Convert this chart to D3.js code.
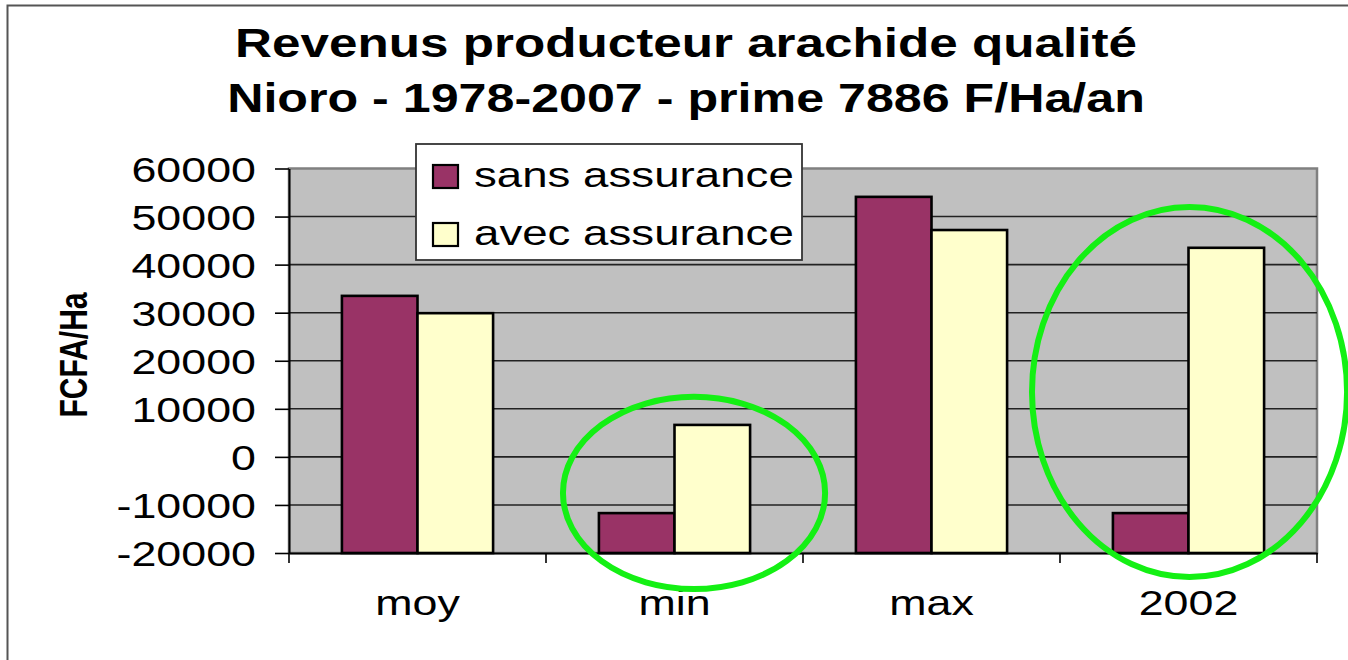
<!DOCTYPE html>
<html>
<head>
<meta charset="utf-8">
<script src="https://cdn.jsdelivr.net/npm/d3@7"></script>
<style>
  html, body { margin: 0; padding: 0; background: #ffffff; }
  svg { display: block; font-family: "Liberation Sans", Arial, sans-serif; }
</style>
</head>
<body>
<svg id="chart" width="1348" height="660"></svg>
<script>
// ---- data ----
const titleLines = ["Revenus producteur arachide qualité", "Nioro - 1978-2007 - prime 7886 F/Ha/an"];
const yAxisLabel = "FCFA/Ha";
const categories = ["moy", "min", "max", "2002"];
const seriesNames = ["sans assurance", "avec assurance"];
const sansAssurance = [33500, -11700, 54100, -11700];
const avecAssurance = [29900, 6650, 47200, 43500];
const yTicks = [-20000, -10000, 0, 10000, 20000, 30000, 40000, 50000, 60000];
const highlightCategories = ["min", "2002"];

// ---- styles / layout ----
const colors = { "sans assurance": "#993366", "avec assurance": "#FFFFCC" };
const stretch = 1.28;
const W = 1348, H = 660;
const plot = { left: 289, right: 1317, top: 168.5, bottom: 553 };

const svg = d3.select("#chart");

// outer chart border
svg.append("rect").attr("x", 7.5).attr("y", 5.5).attr("width", W + 20).attr("height", H + 20)
  .attr("fill", "#fff").attr("stroke", "#555").attr("stroke-width", 2);

// scales
const x0 = d3.scaleBand().domain(categories).range([plot.left, plot.right]);
const x1 = d3.scaleBand().domain(seriesNames).range([0, x0.bandwidth()]).paddingInner(0).paddingOuter(0.7);
const y = d3.scaleLinear().domain([yTicks[0], yTicks[yTicks.length - 1]]).range([plot.bottom, plot.top]);

// plot background
svg.append("rect").attr("x", plot.left).attr("y", plot.top)
  .attr("width", plot.right - plot.left).attr("height", plot.bottom - plot.top)
  .attr("fill", "#c0c0c0").attr("stroke", "#808080").attr("stroke-width", 2.5);

// gridlines
svg.append("g").selectAll("line").data(yTicks.slice(1, -1)).join("line")
  .attr("x1", plot.left).attr("x2", plot.right)
  .attr("y1", d => y(d)).attr("y2", d => y(d))
  .attr("stroke", "#222").attr("stroke-width", 1.6);

// bars
const rows = categories.map((c, i) => ({ cat: c, values: [
  { s: seriesNames[0], v: sansAssurance[i] },
  { s: seriesNames[1], v: avecAssurance[i] }
]}));
const base = y.domain()[0];
svg.append("g").selectAll("g").data(rows).join("g")
  .attr("transform", d => `translate(${x0(d.cat)},0)`)
  .selectAll("rect").data(d => d.values).join("rect")
  .attr("x", d => x1(d.s)).attr("width", x1.bandwidth())
  .attr("y", d => y(Math.max(d.v, base)))
  .attr("height", d => Math.abs(y(base) - y(d.v)))
  .attr("fill", d => colors[d.s]).attr("stroke", "#000").attr("stroke-width", 2.6)
  .attr("stroke-linejoin", "miter");

// y axis
const yAxis = svg.append("g").attr("transform", `translate(${plot.left},0)`)
  .call(d3.axisLeft(y).tickValues(yTicks).tickFormat(d3.format("d")).tickSize(14).tickSizeOuter(0));
yAxis.select(".domain").attr("stroke", "#000").attr("stroke-width", 2);
yAxis.selectAll(".tick line").attr("stroke", "#000").attr("stroke-width", 1.6);
yAxis.selectAll(".tick text")
  .attr("x", 0).attr("dy", "0.36em")
  .attr("transform", `translate(-33,0) scale(${stretch},1)`)
  .attr("font-size", 35).attr("fill", "#000")
  .attr("font-family", "'Liberation Sans', Arial, sans-serif")
  .text(d => d3.format("d")(d).replace("−", "-"));

// x axis (labels at band centres, ticks at band boundaries)
const xAxis = svg.append("g").attr("transform", `translate(0,${plot.bottom})`)
  .call(d3.axisBottom(x0).tickSize(0).tickSizeOuter(0));
xAxis.select(".domain").attr("stroke", "#000").attr("stroke-width", 2);
xAxis.selectAll(".tick text")
  .attr("y", 0).attr("dy", 0)
  .attr("transform", `translate(0,62) scale(${stretch},1)`)
  .attr("font-size", 35).attr("fill", "#000")
  .attr("font-family", "'Liberation Sans', Arial, sans-serif");
const boundaries = categories.map(c => x0(c)).concat([x0.range()[1]]);
xAxis.selectAll("line.bound").data(boundaries).join("line").attr("class", "bound")
  .attr("x1", d => d).attr("x2", d => d).attr("y1", 0).attr("y2", 10)
  .attr("stroke", "#000").attr("stroke-width", 1.6);

// y axis title
svg.append("text")
  .attr("transform", `translate(87,355) scale(${stretch},1) rotate(-90)`)
  .attr("text-anchor", "middle").attr("font-size", 30).attr("font-weight", "bold")
  .text(yAxisLabel);

// chart title
svg.append("g").selectAll("text").data(titleLines).join("text")
  .attr("transform", (d, i) => `translate(686,${57 + i * 55}) scale(${i === 0 ? stretch : 1.255},1)`)
  .attr("text-anchor", "middle").attr("font-size", 40).attr("font-weight", "bold")
  .text(d => d);

// legend
const lg = svg.append("g").attr("transform", "translate(416,144)");
lg.append("rect").attr("width", 386).attr("height", 116)
  .attr("fill", "#fff").attr("stroke", "#333").attr("stroke-width", 1.8);
const li = lg.selectAll("g").data(seriesNames).join("g")
  .attr("transform", (d, i) => `translate(0,${i * 58})`);
li.append("rect").attr("x", 17).attr("y", 21).attr("width", 25).attr("height", 23)
  .attr("fill", d => colors[d]).attr("stroke", "#000").attr("stroke-width", 2.2);
li.append("text").attr("transform", `translate(58,43) scale(1.305,1)`)
  .attr("font-size", 35).text(d => d);

// highlight ellipses (annotation, positioned in data units)
const ellipseSpec = {
  "min":  { dxBand: 0.076, yc: -7500, rxBand: 0.51, ry: 20000 },
  "2002": { dxBand: 0.004, yc: 13500, rxBand: 0.613, ry: 38500 }
};
svg.append("g").selectAll("ellipse").data(highlightCategories).join("ellipse")
  .attr("cx", c => x0(c) + x0.bandwidth() * (0.5 + ellipseSpec[c].dxBand))
  .attr("cy", c => y(ellipseSpec[c].yc))
  .attr("rx", c => x0.bandwidth() * ellipseSpec[c].rxBand)
  .attr("ry", c => y(0) - y(ellipseSpec[c].ry))
  .attr("fill", "none").attr("stroke", "#14f014").attr("stroke-width", 6);
</script>
</body>
</html>
